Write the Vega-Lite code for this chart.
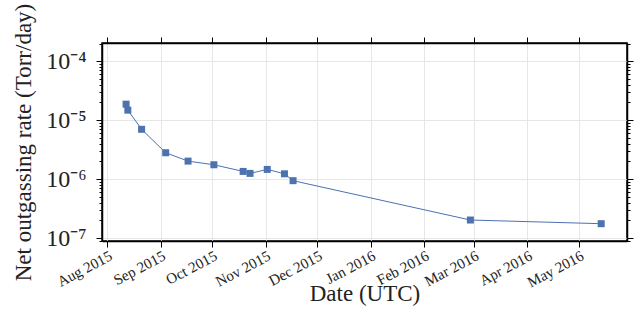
{
  "$schema": "https://vega.github.io/schema/vega-lite/v6.json",
  "width": 525,
  "height": 198,
  "autosize": {"type": "none"},
  "padding": {"left": 102, "top": 43, "right": 12, "bottom": 68},
  "config": {
    "font": "Liberation Serif",
    "view": {"stroke": "black", "strokeWidth": 1.5},
    "axis": {
      "domainColor": "black",
      "domainWidth": 1.5,
      "tickColor": "black",
      "tickWidth": 1,
      "labelColor": "#222",
      "titleColor": "#222",
      "titleFontWeight": "normal",
      "gridColor": "#e6e6e6",
      "gridWidth": 1,
      "labelFont": "Liberation Serif",
      "titleFont": "Liberation Serif"
    }
  },
  "data": {
    "values": [
      {"date": "2015-08-12", "rate": 1.87e-5},
      {"date": "2015-08-13", "rate": 1.48e-5},
      {"date": "2015-08-21", "rate": 7.0e-6},
      {"date": "2015-09-04", "rate": 2.8e-6},
      {"date": "2015-09-17", "rate": 2.02e-6},
      {"date": "2015-10-02", "rate": 1.75e-6},
      {"date": "2015-10-19", "rate": 1.35e-6},
      {"date": "2015-10-23", "rate": 1.25e-6},
      {"date": "2015-11-02", "rate": 1.46e-6},
      {"date": "2015-11-12", "rate": 1.23e-6},
      {"date": "2015-11-17", "rate": 9.4e-7},
      {"date": "2016-02-28", "rate": 2.02e-7},
      {"date": "2016-05-14", "rate": 1.75e-7}
    ]
  },
  "layer": [
    {
      "mark": {"type": "line", "color": "#4c72b0", "strokeWidth": 1},
      "encoding": {
        "x": {
          "field": "date", "type": "temporal",
          "scale": {"type": "utc", "domain": [1438128000000, 1464480000000]},
          "axis": {
            "orient": "bottom",
            "title": "Date (UTC)",
            "titleFontSize": 23,
            "titlePadding": -7,
            "values": [1438387200000, 1441065600000, 1443657600000, 1446336000000, 1448928000000, 1451606400000, 1454284800000, 1456790400000, 1459468800000, 1462060800000],
            "labelExpr": "utcFormat(datum.value, '%b %Y')",
            "labelOverlap": false,
            "labelAngle": -28,
            "labelAlign": "right",
            "labelBaseline": "top",
            "labelFontSize": 15,
            "labelPadding": 1,
            "tickSize": 6,
            "grid": true
          }
        },
        "y": {
          "field": "rate", "type": "quantitative",
          "scale": {"type": "log", "domain": [8.9e-8, 2.04e-4]},
          "axis": {
            "orient": "left",
            "title": "Net outgassing rate (Torr/day)",
            "titleFontSize": 23,
            "titlePadding": 10,
            "values": [9e-8, 1e-7, 2e-7, 3e-7, 4e-7, 5e-7, 6e-7, 7e-7, 8e-7, 9e-7, 1e-6, 2e-6, 3e-6, 4e-6, 5e-6, 6e-6, 7e-6, 8e-6, 9e-6, 1e-5, 2e-5, 3e-5, 4e-5, 5e-5, 6e-5, 7e-5, 8e-5, 9e-5, 1e-4, 2e-4],
            "labelExpr": "abs(datum.value/1e-4-1)<0.01 ? '10⁻⁴' : abs(datum.value/1e-5-1)<0.01 ? '10⁻⁵' : abs(datum.value/1e-6-1)<0.01 ? '10⁻⁶' : abs(datum.value/1e-7-1)<0.01 ? '10⁻⁷' : ''",
            "labelOverlap": false,
            "labelFontSize": 24,
            "labelPadding": 10,
            "tickSize": {"condition": {"test": "abs(log(datum.value)/LN10 - round(log(datum.value)/LN10)) < 0.01", "value": 6}, "value": 3},
            "gridOpacity": {"condition": {"test": "abs(log(datum.value)/LN10 - round(log(datum.value)/LN10)) < 0.01", "value": 1}, "value": 0},
            "grid": true
          }
        }
      }
    },
    {
      "mark": {"type": "square", "size": 49, "color": "#4c72b0", "opacity": 1, "filled": true},
      "encoding": {
        "x": {
          "field": "date", "type": "temporal",
          "scale": {"type": "utc", "domain": [1438128000000, 1464480000000]},
          "axis": {
            "orient": "top",
            "title": null,
            "labels": false,
            "grid": false,
            "tickSize": 6,
            "values": [1438387200000, 1441065600000, 1443657600000, 1446336000000, 1448928000000, 1451606400000, 1454284800000, 1456790400000, 1459468800000, 1462060800000]
          }
        },
        "y": {
          "field": "rate", "type": "quantitative",
          "scale": {"type": "log", "domain": [8.9e-8, 2.04e-4]},
          "axis": {
            "orient": "right",
            "title": null,
            "labels": false,
            "grid": false,
            "values": [9e-8, 1e-7, 2e-7, 3e-7, 4e-7, 5e-7, 6e-7, 7e-7, 8e-7, 9e-7, 1e-6, 2e-6, 3e-6, 4e-6, 5e-6, 6e-6, 7e-6, 8e-6, 9e-6, 1e-5, 2e-5, 3e-5, 4e-5, 5e-5, 6e-5, 7e-5, 8e-5, 9e-5, 1e-4, 2e-4],
            "tickSize": {"condition": {"test": "abs(log(datum.value)/LN10 - round(log(datum.value)/LN10)) < 0.01", "value": 6}, "value": 3}
          }
        }
      }
    }
  ],
  "resolve": {"axis": {"x": "independent", "y": "independent"}}
}
